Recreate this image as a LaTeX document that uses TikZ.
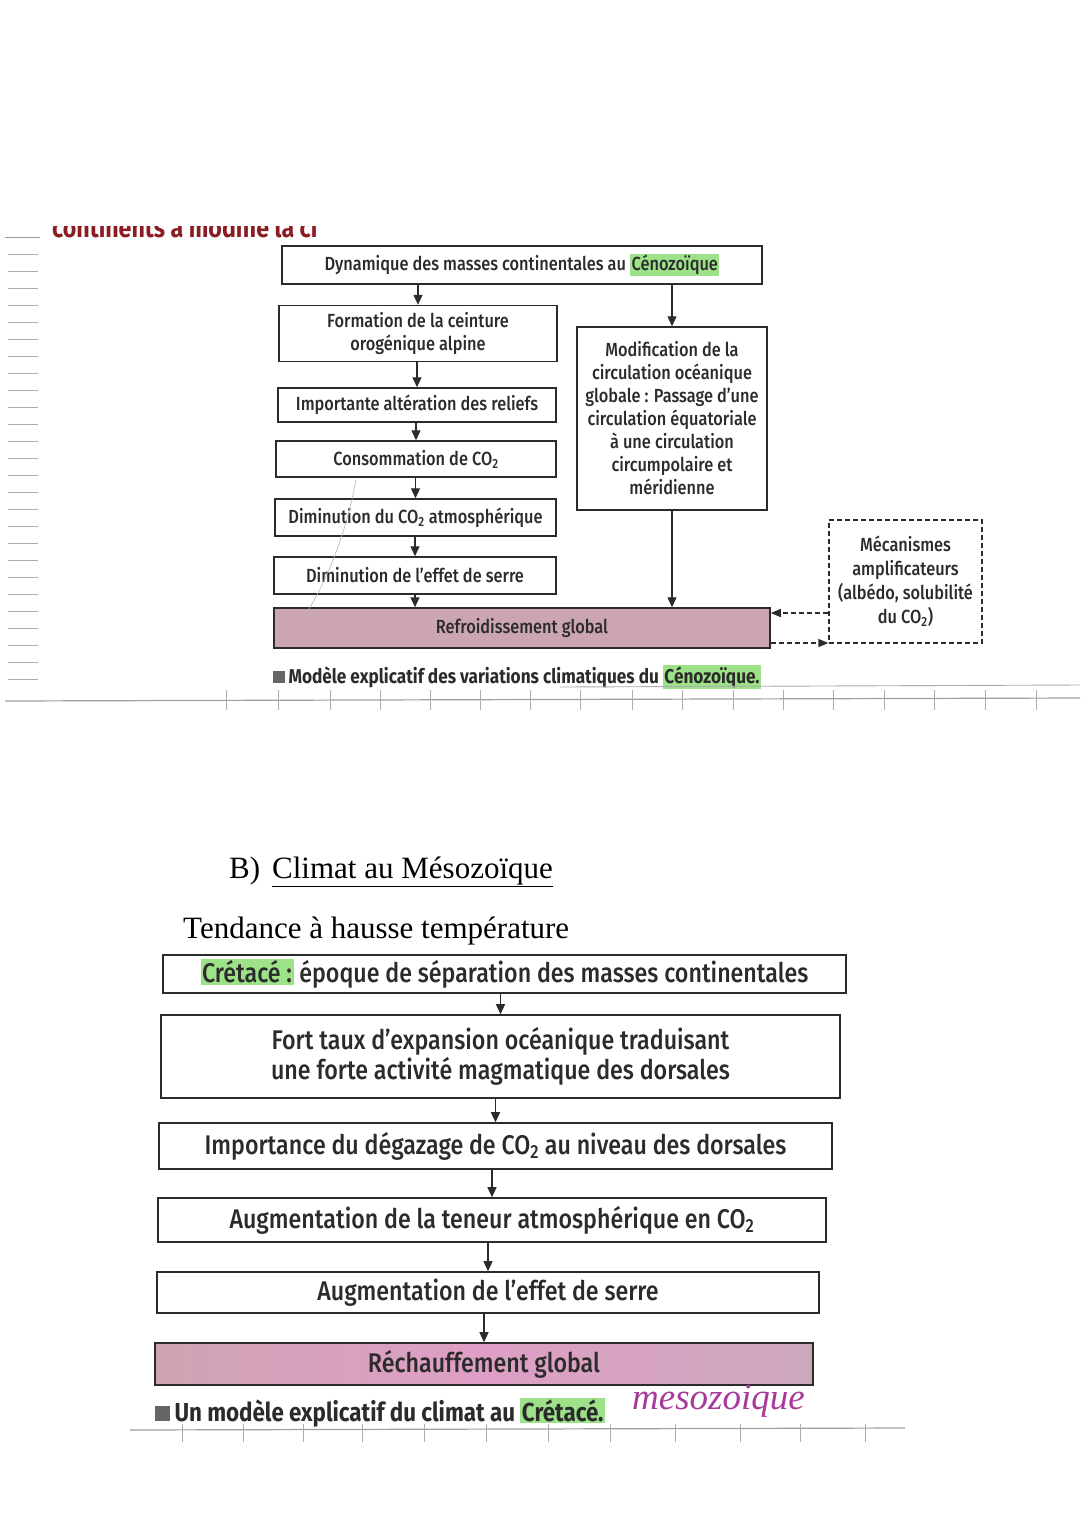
\documentclass[tikz,border=0pt]{standalone}
\usepackage{fontspec}
\setmainfont{Fira Sans}[UprightFont=* Medium, BoldFont=* Bold, FakeStretch=0.86]
\newfontfamily\serif{Liberation Serif}
\usetikzlibrary{arrows.meta,calc}
\definecolor{ink}{HTML}{2B2B2B}
\definecolor{hlg}{HTML}{9DE289}
\definecolor{mauve}{HTML}{CBA5B0}
\definecolor{darkred}{HTML}{8A1C22}
\definecolor{pinkA}{HTML}{CFA3B3}
\definecolor{pinkB}{HTML}{DE9FC6}
\definecolor{pinkC}{HTML}{CCA8BC}
\definecolor{handc}{HTML}{A8389A}
\newcommand\hl[1]{{\setlength{\fboxsep}{1.5pt}\colorbox{hlg}{#1}}}
\newcommand\ftop{\fontsize{19}{23}\selectfont}
\newcommand\fbot{\fontsize{27}{30}\selectfont}
\newcommand\cotwo{CO\textsubscript{2}}
\tikzset{
  topbox/.style={draw=ink, line width=1.5pt, align=center, inner sep=0pt, font=\ftop, text=ink},
  botbox/.style={draw=ink, line width=1.6pt, align=center, inner sep=0pt, font=\fbot, text=ink},
  dbox/.style={draw=ink, line width=1.3pt, dashed, dash pattern=on 5pt off 3pt, align=center, inner sep=0pt, font=\fontsize{19}{24}\selectfont, text=ink},
  arr/.style={draw=ink, line width=1.3pt, -{Triangle[length=10pt,width=9pt]}},
  darr/.style={draw=ink, line width=1.3pt, dash pattern=on 5pt off 3pt, -{Triangle[length=10pt,width=8pt]}},
  rule/.style={draw=gray!65, line width=0.9pt}
}
\begin{document}
\begin{tikzpicture}[x=1pt,y=-1pt]
\useasboundingbox[fill=white] (0,0) rectangle (1080,1532);

% cut-off heading at top
\begin{scope}
\clip (40,226) rectangle (370,245);
\node[anchor=base west, text=darkred, font=\fontsize{27}{27}\selectfont\bfseries, inner sep=0pt] (cut) at (52,237) {continents a modifié la ci};
\end{scope}

% notebook margin lines
\draw[gray!80, line width=1pt] (5,237) -- (40,237);
\foreach \y in {254,271,...,690} \draw[rule] (8,\y) -- (38,\y);

% ---------- Top diagram ----------
\node[topbox, minimum width=480pt, minimum height=38pt] (b1) at (522,265) {Dynamique des masses continentales au \hl{Cénozoïque}};
\node[topbox, minimum width=278pt, minimum height=56pt] (b2) at (418,333.5) {Formation de la ceinture\\orogénique alpine};
\node[topbox, minimum width=278pt, minimum height=34pt] (b3) at (417,405) {Importante altération des reliefs};
\node[topbox, minimum width=280pt, minimum height=36pt] (b4) at (416,459) {Consommation de \cotwo};
\node[topbox, minimum width=281pt, minimum height=37pt] (b5) at (415.5,517.5) {Diminution du \cotwo{} atmosphérique};
\node[topbox, minimum width=282pt, minimum height=37pt] (b6) at (415,575.5) {Diminution de l'effet de serre};
\node[topbox, fill=mauve, minimum width=496pt, minimum height=40pt] (b7) at (522,628) {Refroidissement global};
\node[topbox, minimum width=190pt, minimum height=183pt] (r) at (672,418.5) {Modification de la\\circulation océanique\\globale : Passage d'une\\circulation équatoriale\\à une circulation\\circumpolaire et\\méridienne};
\node[dbox, minimum width=153pt, minimum height=123pt] (m) at (905.5,581.5) {Mécanismes\\amplificateurs\\(albédo, solubilité\\du \cotwo)};

\draw[arr] (b1.south -| b2.north) -- (b2.north);
\draw[arr] (b2.south -| b3.north) -- (b3.north);
\draw[arr] (b3.south -| b4.north) -- (b4.north);
\draw[arr] (b4.south -| b5.north) -- (b5.north);
\draw[arr] (b5.south -| b6.north) -- (b6.north);
\draw[arr] (b6.south) -- (b6.south |- b7.north);
\draw[arr] (b1.south -| r.north) -- (r.north);
\draw[arr] (r.south) -- (r.south |- b7.north);
\coordinate (ya) at (0,613);
\coordinate (yb) at (0,643);
\draw[darr] (m.west |- ya) -- (b7.east |- ya);
\draw[darr] (b7.east |- yb) -- (m.west |- yb);

% pencil stray line
\draw[gray!55, line width=0.6pt] (356,480) .. controls (345,540) and (322,590) .. (305,615);

\node[anchor=base west, inner sep=0pt, text=ink, font=\fontsize{20}{20}\selectfont\bfseries] (cap1) at (273,683) {\textcolor{gray!80!black}{\rule{12pt}{12pt}}\,Modèle explicatif des variations climatiques du \hl{Cénozoïque.}};

% notebook line under caption
\draw[gray!75, line width=1.2pt] (5,701) -- (1080,698);
\draw[rule] (560,687) -- (1080,685);
\foreach \x in {226,278,330,380,430,480,530,580,632,682,733,783,833,884,934,985,1036}
  \draw[rule] (\x,690) -- (\x,710);

% ---------- Bottom part ----------
\node[anchor=base west, inner sep=0pt, text=black, font=\serif\fontsize{31}{31}\selectfont] (hB) at (229,878) {B)\hspace{12pt}\underline{Climat au Mésozoïque}};
\node[anchor=base west, inner sep=0pt, text=black, font=\serif\fontsize{31}{31}\selectfont] (tend) at (183,938) {Tendance à hausse température};

\node[botbox, minimum width=683pt, minimum height=38pt] (c1) at (504.5,974) {\hl{Crétacé :} époque de séparation des masses continentales};
\node[botbox, minimum width=679pt, minimum height=83pt] (c2) at (500.5,1056.5) {Fort taux d'expansion océanique traduisant\\une forte activité magmatique des dorsales};
\node[botbox, minimum width=673pt, minimum height=46pt] (c3) at (495.5,1146) {Importance du dégazage de \cotwo{} au niveau des dorsales};
\node[botbox, minimum width=668pt, minimum height=44pt] (c4) at (492,1220) {Augmentation de la teneur atmosphérique en \cotwo};
\node[botbox, minimum width=662pt, minimum height=41pt] (c5) at (488,1292.5) {Augmentation de l'effet de serre};
\node[botbox, left color=pinkA, right color=pinkC, middle color=pinkB, minimum width=658pt, minimum height=42pt] (c6) at (484,1364) {Réchauffement global};

\draw[arr] (c1.south -| c2.north) -- (c2.north);
\draw[arr] (c2.south -| c3.north) -- (c3.north);
\draw[arr] (c3.south -| c4.north) -- (c4.north);
\draw[arr] (c4.south -| c5.north) -- (c5.north);
\draw[arr] (c5.south -| c6.north) -- (c6.north);

\node[anchor=base west, inner sep=0pt, text=ink, font=\fontsize{26}{26}\selectfont\bfseries] (cap2) at (155,1421) {\textcolor{gray!80!black}{\rule{15pt}{15pt}}\,Un modèle explicatif du climat au \hl{Crétacé.}};
\node[anchor=base west, inner sep=0pt, text=handc, font=\serif\itshape\fontsize{37}{37}\selectfont] (hand) at (632,1409) {mesozoique};

\draw[gray!75, line width=1.2pt] (130,1430) -- (905,1428);
\foreach \x in {182,243,303,362,424,486,548,610,675,740,800,865}
  \draw[rule] (\x,1424) -- (\x,1442);
\end{tikzpicture}
\end{document}
